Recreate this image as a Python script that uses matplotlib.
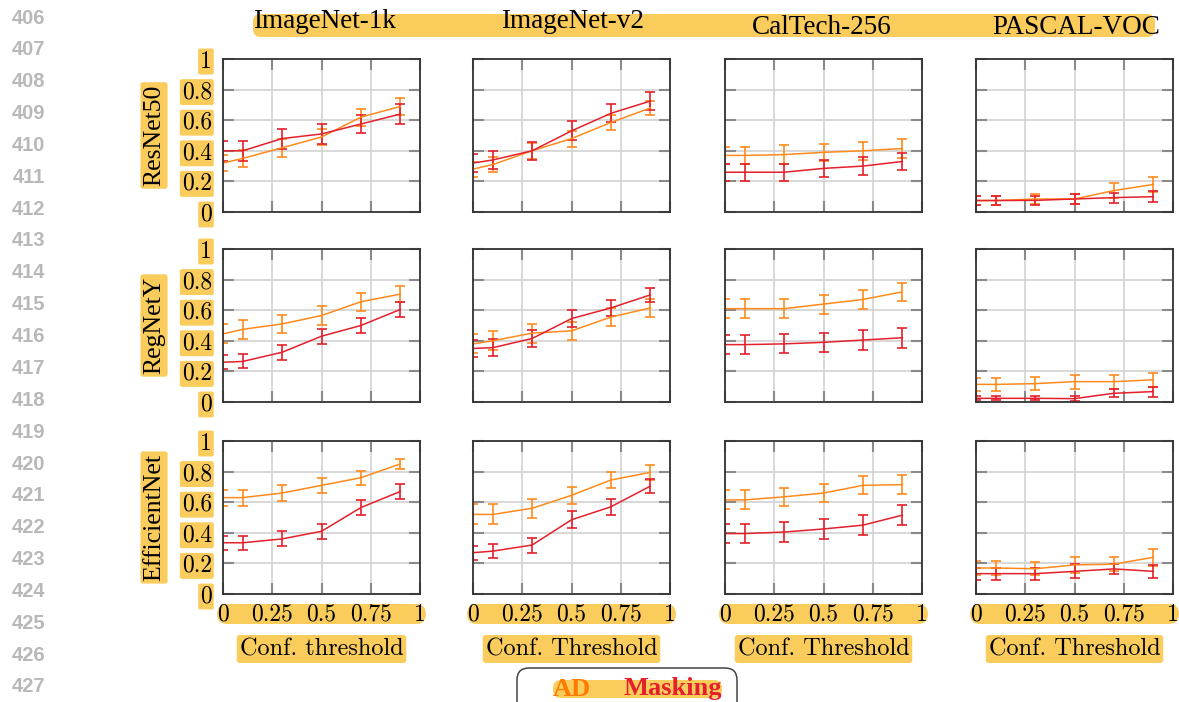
import matplotlib
matplotlib.use('Agg')
import matplotlib.pyplot as plt
from matplotlib.patches import FancyBboxPatch


W, H = 1179, 702
HIGHLIGHT = '#f9cc5c'
AD_COLOR = '#ff8a1c'
MASK_COLOR = '#e3202b'

thresholds = [0, 0.1, 0.3, 0.5, 0.7, 0.9]
datasets = ['ImageNet-1k', 'ImageNet-v2', 'CalTech-256', 'PASCAL-VOC']
models = ['ResNet50', 'RegNetY', 'EfficientNet']
xlabels = ['Conf. threshold', 'Conf. Threshold', 'Conf. Threshold',
           'Conf. Threshold']
yticks = [0, 0.2, 0.4, 0.6, 0.8, 1]
ytick_labels = ['0', '0.2', '0.4', '0.6', '0.8', '1']
xticks = [0, 0.25, 0.5, 0.75, 1]
xtick_labels = ['0', '0.25', '0.5', '0.75', '1']

# one row per dataset, in the order of `datasets`
ad_resnet50 = [[0.32, 0.35, 0.42, 0.49, 0.62, 0.69],
               [0.28, 0.31, 0.40, 0.48, 0.585, 0.68],
               [0.37, 0.37, 0.375, 0.39, 0.40, 0.415],
               [0.075, 0.075, 0.085, 0.085, 0.14, 0.18]]
ad_resnet50_err = [[0.05, 0.055, 0.06, 0.055, 0.055, 0.057],
                   [0.05, 0.05, 0.052, 0.052, 0.048, 0.048],
                   [0.057, 0.057, 0.06, 0.057, 0.058, 0.059],
                   [0.03, 0.03, 0.032, 0.035, 0.048, 0.048]]
mask_resnet50 = [[0.40, 0.40, 0.48, 0.51, 0.575, 0.64],
                 [0.32, 0.34, 0.40, 0.53, 0.645, 0.725],
                 [0.26, 0.26, 0.26, 0.285, 0.30, 0.33],
                 [0.075, 0.075, 0.076, 0.085, 0.094, 0.10]]
mask_resnet50_err = [[0.065, 0.065, 0.065, 0.065, 0.06, 0.063],
                     [0.058, 0.058, 0.058, 0.062, 0.059, 0.057],
                     [0.055, 0.055, 0.055, 0.056, 0.057, 0.058],
                     [0.03, 0.03, 0.03, 0.03, 0.033, 0.035]]

ad_regnety = [[0.445, 0.475, 0.51, 0.565, 0.655, 0.705],
              [0.38, 0.40, 0.45, 0.465, 0.555, 0.615],
              [0.61, 0.61, 0.61, 0.64, 0.67, 0.72],
              [0.115, 0.115, 0.12, 0.133, 0.133, 0.145]]
ad_regnety_err = [[0.062, 0.062, 0.061, 0.061, 0.058, 0.053],
                  [0.062, 0.062, 0.063, 0.061, 0.061, 0.061],
                  [0.063, 0.063, 0.063, 0.062, 0.061, 0.057],
                  [0.04, 0.04, 0.041, 0.045, 0.045, 0.047]]
mask_regnety = [[0.26, 0.265, 0.325, 0.43, 0.50, 0.605],
                [0.35, 0.355, 0.415, 0.545, 0.615, 0.70],
                [0.375, 0.375, 0.38, 0.39, 0.405, 0.42],
                [0.024, 0.024, 0.024, 0.022, 0.057, 0.068]]
mask_regnety_err = [[0.046, 0.046, 0.048, 0.049, 0.049, 0.05],
                    [0.054, 0.054, 0.057, 0.054, 0.054, 0.048],
                    [0.062, 0.062, 0.063, 0.062, 0.063, 0.064],
                    [0.013, 0.013, 0.013, 0.016, 0.027, 0.033]]

ad_efficientnet = [[0.63, 0.63, 0.66, 0.71, 0.76, 0.85],
                   [0.52, 0.52, 0.56, 0.645, 0.745, 0.795],
                   [0.615, 0.615, 0.635, 0.66, 0.71, 0.715],
                   [0.17, 0.17, 0.165, 0.19, 0.195, 0.24]]
ad_efficientnet_err = [[0.052, 0.052, 0.053, 0.05, 0.047, 0.033],
                       [0.065, 0.065, 0.064, 0.055, 0.055, 0.051],
                       [0.062, 0.062, 0.061, 0.061, 0.058, 0.06],
                       [0.043, 0.043, 0.044, 0.052, 0.047, 0.055]]
mask_efficientnet = [[0.335, 0.335, 0.36, 0.41, 0.565, 0.67],
                     [0.27, 0.28, 0.32, 0.485, 0.57, 0.705],
                     [0.395, 0.395, 0.405, 0.425, 0.45, 0.515],
                     [0.133, 0.133, 0.133, 0.148, 0.164, 0.148]]
mask_efficientnet_err = [[0.046, 0.046, 0.049, 0.049, 0.049, 0.049],
                         [0.045, 0.045, 0.049, 0.056, 0.051, 0.048],
                         [0.063, 0.063, 0.064, 0.065, 0.066, 0.064],
                         [0.04, 0.04, 0.04, 0.045, 0.035, 0.044]]

ad_means = [ad_resnet50, ad_regnety, ad_efficientnet]
ad_errs = [ad_resnet50_err, ad_regnety_err, ad_efficientnet_err]
mask_means = [mask_resnet50, mask_regnety, mask_efficientnet]
mask_errs = [mask_resnet50_err, mask_regnety_err, mask_efficientnet_err]

line_numbers = list(range(406, 428))

# panel geometry in pixels
col_left = [223, 473, 725, 976]
row_top = [59, 249, 441]
ax_w, ax_h = 197, 153


def fx(x):
    return x / W


def fy(y):
    return 1 - y / H


def band(fig, x0, y0, x1, y1, **kw):
    # rounded rectangle given in pixel coords (y down), drawn in inches
    style = dict(boxstyle='round,pad=0,rounding_size=0.08',
                 fc=HIGHLIGHT, ec='none', lw=0)
    style.update(kw)
    p = FancyBboxPatch((x0 / 100, (H - y1) / 100), (x1 - x0) / 100,
                       (y1 - y0) / 100, transform=fig.dpi_scale_trans,
                       **style)
    fig.add_artist(p)
    return p


hl_box = dict(boxstyle='round,pad=0.12', fc=HIGHLIGHT, ec='none')
cm_font = 'cmr10'
serif = 'Liberation Serif'

fig = plt.figure(figsize=(W / 100, H / 100), dpi=100)

for n, y in zip(line_numbers,
                [18 + i * (687 - 18) / 21 for i in range(22)]):
    fig.text(fx(45), fy(y), str(n), ha='right', va='center',
             fontsize=14.5, fontweight='bold', color='#b8b8b8',
             family='Liberation Sans')

band(fig, 253, 14, 1155, 37)
title_x = [253, 501, 752, 992]
title_y = [21, 21, 27, 27]
for j, name in enumerate(datasets):
    fig.text(fx(title_x[j]), fy(title_y[j]), name, ha='left', va='center',
             fontsize=19.5, family=serif)

for i, model in enumerate(models):
    fig.text(fx(154), fy(row_top[i] + ax_h / 2), model, rotation=90,
             ha='center', va='center', fontsize=18.5, family=serif,
             bbox=dict(boxstyle='round,pad=0.1', fc=HIGHLIGHT, ec='none'))
    for j in range(len(datasets)):
        ax = fig.add_axes([fx(col_left[j]), fy(row_top[i] + ax_h),
                           ax_w / W, ax_h / H])
        ebar = dict(capsize=3.8, elinewidth=1.2, capthick=1.2, lw=1.1)
        ax.errorbar(thresholds, ad_means[i][j], yerr=ad_errs[i][j],
                    color=AD_COLOR, ecolor=AD_COLOR, **ebar)
        ax.errorbar(thresholds, mask_means[i][j], yerr=mask_errs[i][j],
                    color=MASK_COLOR, ecolor=MASK_COLOR, **ebar)
        ax.set_xlim(0, 1)
        ax.set_ylim(0, 1)
        ax.set_xticks(xticks)
        ax.set_yticks(yticks)
        ax.grid(True, color='#d2d2d2', lw=1.2)
        ax.set_axisbelow(True)
        for s in ax.spines.values():
            s.set_color('#333333')
            s.set_linewidth(1.3)
        ax.tick_params(direction='in', length=8, width=1.5, color='#8a8a8a',
                       top=True, right=True)
        if j == 0:
            ax.set_yticklabels(ytick_labels, family=cm_font, fontsize=17)
            ax.tick_params(axis='y', pad=8)
            for lbl in ax.get_yticklabels():
                lbl.set_bbox(dict(boxstyle='round,pad=0.08', fc=HIGHLIGHT,
                                  ec='none'))
        else:
            ax.set_yticklabels([])
        if i == len(models) - 1:
            ax.set_xticklabels(xtick_labels, family=cm_font, fontsize=17)
            ax.tick_params(axis='x', pad=7)
            ax.add_patch(FancyBboxPatch(
                (-0.03, -0.196), 1.06, 0.131, transform=ax.transAxes,
                clip_on=False, zorder=0, fc=HIGHLIGHT, ec='none',
                boxstyle='round,pad=0,rounding_size=0.05',
                mutation_aspect=ax_w / ax_h))
            fig.text(fx(col_left[j] + ax_w / 2), fy(649), xlabels[j],
                     ha='center', va='center', fontsize=17.5,
                     family=cm_font, bbox=hl_box)
        else:
            ax.set_xticklabels([])

# legend box at the bottom
band(fig, 517, 668, 737, 740, fc='white', ec='#444444', lw=1.1,
     boxstyle='round,pad=0,rounding_size=0.12')
band(fig, 553, 680, 722, 698)
fig.text(fx(553), fy(689), 'AD', ha='left', va='center', fontsize=19,
         fontweight='bold', family=serif, color='#ff7a00')
fig.text(fx(624), fy(689), 'Masking', ha='left', va='center', fontsize=19,
         fontweight='bold', family=serif, color=MASK_COLOR)

fig.savefig('out.png', dpi=100)
